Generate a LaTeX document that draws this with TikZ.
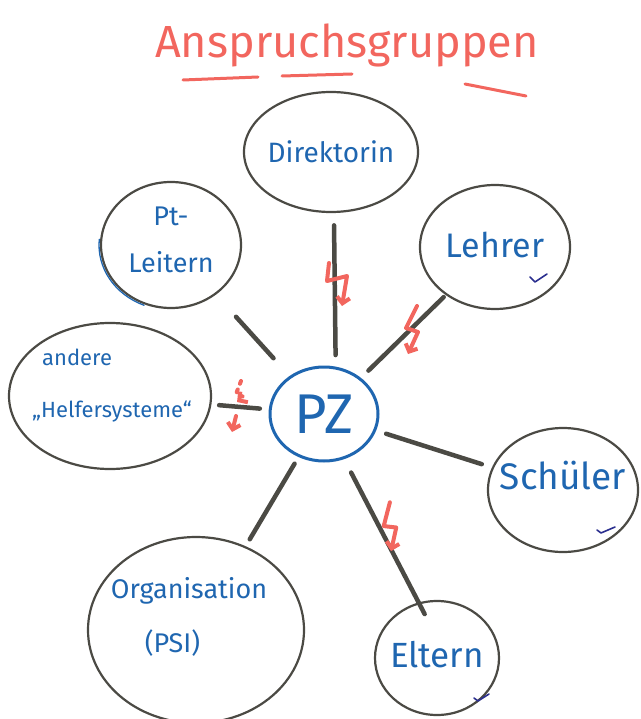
\documentclass[tikz,border=0pt]{standalone}
\usepackage{fontspec}
\setmainfont{Fira Sans}
\usetikzlibrary{shapes.geometric,calc,arrows.meta}
\definecolor{ink}{HTML}{1F66B0}
\definecolor{rim}{HTML}{4B4A44}
\definecolor{marker}{HTML}{F2665E}
\definecolor{tickink}{HTML}{2B2F8F}
\tikzset{
  group/.style={ellipse, draw=rim, line width=2.2pt, inner sep=0pt},
  grouptext/.style={text=ink, inner sep=0pt, align=center},
  hub/.style={ellipse, draw=ink, line width=3pt, inner sep=0pt, minimum width=108pt, minimum height=94pt},
  conn/.style={draw=rim, line width=4.5pt, line cap=round},
  boltline/.style={draw=marker, line width=4pt, line cap=round, line join=round,
    -{Straight Barb[length=6pt,width=13pt]}},
  boltA/.pic={\draw[boltline] (-7,-22) -- (-9,-4) -- (11,-9) -- (6,21);},
  boltB/.pic={\draw[boltline] (6,-24) -- (-5,-2) -- (7,2) -- (-3,24);},
  dottedbolt/.pic={\draw[boltline, dash pattern=on 3pt off 6pt] (3,-25) -- (-2,-12) -- (6,-9) -- (-1,-4);
                   \draw[boltline] (-2,10) -- (-6,26);},
  okmark/.style={draw=tickink, line width=1.6pt, line cap=round, line join=round},
}
\begin{document}
\begin{tikzpicture}[x=1pt, y=-1pt]
  \useasboundingbox (0,0) rectangle (640,719);
  \clip (0,0) rectangle (640,719);

  % title
  \node[text=marker, font=\fontsize{45}{50}\selectfont] (title) at (347,45) {Anspruchsgruppen};
  \draw[marker, line width=3pt, line cap=round] (183,80) -- (258,77);
  \draw[marker, line width=3pt, line cap=round] (282,76) -- (352,74);
  \draw[marker, line width=3pt, line cap=round] (465,84) -- (526,96);

  % centre
  \node[hub, label={[grouptext, font=\fontsize{56}{60}\selectfont]center:PZ}] (pz) at (324,414) {};

  % surrounding groups
  \node[group, minimum width=174pt, minimum height=120pt,
        label={[grouptext, font=\fontsize{28}{32}\selectfont]center:Direktorin}] (dir) at (331,152) {};
  \node[group, minimum width=140pt, minimum height=126pt,
        label={[grouptext, font=\fontsize{27}{47}\selectfont, yshift=5pt]center:{Pt-\\Leitern}}] (pt) at (171,245) {};
  \node[group, minimum width=150pt, minimum height=124pt,
        label={[grouptext, font=\fontsize{34}{38}\selectfont, yshift=2pt]center:Lehrer}] (leh) at (495,247) {};
  \node[group, minimum width=202pt, minimum height=146pt,
        label={[grouptext, align=left, font=\fontsize{22}{52}\selectfont, yshift=10pt, xshift=2pt]center:{\hspace*{10pt}andere\\„Helfersysteme“}}] (help) at (110,396) {};
  \node[group, minimum width=150pt, minimum height=124pt,
        label={[grouptext, font=\fontsize{37}{40}\selectfont, yshift=14pt]center:Schüler}] (sch) at (563,490) {};
  \node[group, minimum width=216pt, minimum height=186pt,
        label={[grouptext, align=left, font=\fontsize{27}{54}\selectfont, yshift=13pt, xshift=-7pt]center:{Organisation\\\hspace*{34pt}(PSI)}}] (org) at (196,630) {};
  \node[group, minimum width=124pt, minimum height=114pt,
        label={[grouptext, font=\fontsize{35}{38}\selectfont, yshift=3pt]center:Eltern}] (elt) at (437,658) {};

  % blue pen trace along the left rim of the Pt ellipse
  \draw[ink, line width=1.3pt, line cap=round] (pt.center) ++(185:72 and 65)
    arc[start angle=185, end angle=112, x radius=72, y radius=65];

  % connectors
  \draw[conn] ($(pz)!0.225!(dir)+(10,0)$) -- ($(pz)!0.72!(dir)+(5,0)$);
  \draw[conn] ($(pz)!0.33!(pt)$) -- ($(pz)!0.575!(pt)$);
  \draw[conn] ($(pz)!0.26!(leh)$) -- ($(pz)!0.70!(leh)$);
  \draw[conn] ($(pz)!0.30!(help)$) -- ($(pz)!0.49!(help)$);
  \draw[conn] ($(pz)!0.26!(sch)$) -- ($(pz)!0.66!(sch)$);
  \draw[conn] ($(pz)!0.23!(org)$) -- ($(pz)!0.58!(org)$);
  \draw[conn] ($(pz)!0.24!(elt)$) -- ($(pz)!0.82!(elt)+(8,0)$);

  % conflict marks
  \pic at (336,285) {boltA};
  \pic at (411,330) {boltB};
  \pic[rotate=12] at (389,527) {boltB};
  \pic at (238,406) {dottedbolt};

  % check marks
  \draw[okmark] (530,277) -- (535,282) -- (547,274);
  \draw[okmark] (597,530) -- (601,533) -- (615,527);
  \draw[okmark] (474,698) -- (478,701) -- (489,694);
\end{tikzpicture}
\end{document}
